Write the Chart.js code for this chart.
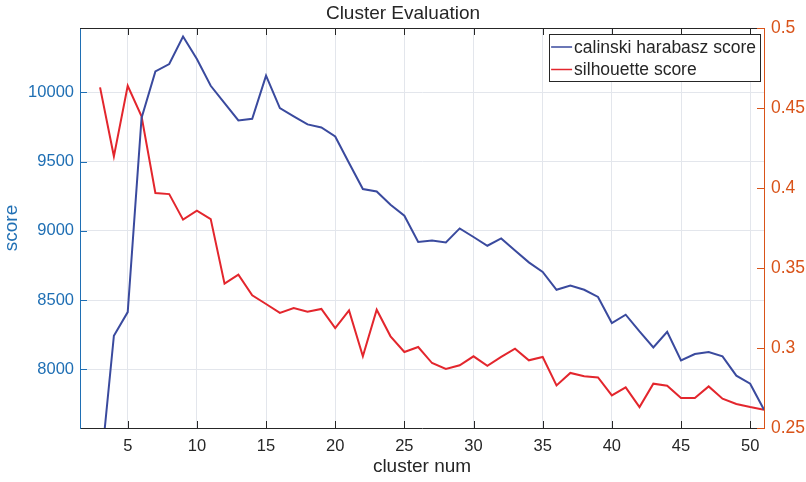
<!DOCTYPE html>
<html>
<head>
<meta charset="utf-8">
<title>Cluster Evaluation</title>
<script src="https://cdn.jsdelivr.net/npm/chart.js@4/dist/chart.umd.min.js"></script>
<style>
  html, body { margin: 0; padding: 0; background: #ffffff; }
  #wrap { width: 806px; height: 482px; position: relative; }
</style>
</head>
<body>
<div id="wrap"><canvas id="cluster-eval"></canvas></div>
<script>
// cluster counts on the x axis
const clusterNums = [3, 4, 5, 6, 7, 8, 9, 10, 11, 12, 13, 14, 15, 16, 17, 18, 19, 20, 21, 22, 23, 24, 25, 26, 27,
  28, 29, 30, 31, 32, 33, 34, 35, 36, 37, 38, 39, 40, 41, 42, 43, 44, 45, 46, 47, 48, 49, 50, 51];

// left axis series
const calinskiScores = [7230, 8243, 8414, 9815, 10152, 10205, 10404, 10241, 10048, 9923, 9798, 9810, 10121, 9887,
  9827, 9769, 9747, 9682, 9490, 9302, 9285, 9189, 9110, 8920, 8931, 8917, 9018, 8956, 8893, 8946, 8859, 8773,
  8704, 8575, 8606, 8575, 8523, 8335, 8395, 8274, 8159, 8272, 8065, 8111, 8126, 8094, 7955, 7897, 7709];

// right axis series
const silhouetteScores = [0.4629, 0.4198, 0.4639, 0.4448, 0.3969, 0.3962, 0.3802, 0.3858, 0.3806, 0.3402, 0.3458,
  0.3329, 0.3275, 0.3219, 0.3250, 0.3227, 0.3244, 0.3125, 0.3235, 0.2948, 0.3239, 0.3073, 0.2975, 0.3006, 0.2906,
  0.2869, 0.2892, 0.2948, 0.2889, 0.2944, 0.2996, 0.2923, 0.2944, 0.2766, 0.2844, 0.2823, 0.2816, 0.2704, 0.2754,
  0.2631, 0.2777, 0.2764, 0.2688, 0.2688, 0.2760, 0.2683, 0.2650, 0.2631, 0.2614];

const xTicks = [5, 10, 15, 20, 25, 30, 35, 40, 45, 50];
const leftTicks = [8000, 8500, 9000, 9500, 10000];
const rightTicks = [0.25, 0.3, 0.35, 0.4, 0.45, 0.5];

const FONT = '"Liberation Sans", Arial, Helvetica, sans-serif';
const BLUE_AXIS = '#1f6fb4';
const ORANGE_AXIS = '#d95319';
const DARK = '#262626';
const GRID = '#e3e6ec';

function toPoints(values) {
  return values.map((v, i) => ({ x: clusterNums[i], y: v }));
}

function setTicks(list) {
  return scale => { scale.ticks = list.map(v => ({ value: v })); };
}

// inward tick marks + top box edge, like a matlab axes
const axesBox = {
  id: 'axesBox',
  afterDatasetsDraw(chart) {
    const { ctx, chartArea: a, scales } = chart;
    const len = 7;
    ctx.save();
    ctx.lineWidth = 1;

    ctx.strokeStyle = DARK;
    ctx.beginPath();
    ctx.moveTo(a.left, a.top + 0.5);
    ctx.lineTo(a.right, a.top + 0.5);
    xTicks.forEach(t => {
      const px = Math.round(scales.x.getPixelForValue(t)) + 0.5;
      ctx.moveTo(px, a.bottom);
      ctx.lineTo(px, a.bottom - len);
      ctx.moveTo(px, a.top);
      ctx.lineTo(px, a.top + len);
    });
    ctx.stroke();

    ctx.strokeStyle = BLUE_AXIS;
    ctx.beginPath();
    leftTicks.forEach(t => {
      const py = Math.round(scales.y.getPixelForValue(t)) + 0.5;
      ctx.moveTo(a.left, py);
      ctx.lineTo(a.left + len, py);
    });
    ctx.stroke();

    ctx.strokeStyle = ORANGE_AXIS;
    ctx.beginPath();
    rightTicks.forEach(t => {
      const py = Math.round(scales.y2.getPixelForValue(t)) + 0.5;
      ctx.moveTo(a.right, py);
      ctx.lineTo(a.right - len, py);
    });
    ctx.stroke();
    ctx.restore();
  }
};

// boxed legend in the top right corner of the plot
const boxLegend = {
  id: 'boxLegend',
  afterDraw(chart) {
    const { ctx, chartArea: a } = chart;
    const fontSize = 17.5;
    const rowH = 22.5;
    ctx.save();
    ctx.font = `${fontSize}px ${FONT}`;
    const textW = Math.max(...chart.data.datasets.map(d => ctx.measureText(d.label).width));
    const w = 2 + 21 + 2 + textW + 4;
    const h = rowH * chart.data.datasets.length + 2;
    const x0 = a.right - 4 - w;
    const y0 = a.top + 6;
    ctx.fillStyle = '#ffffff';
    ctx.fillRect(x0, y0, w, h);
    ctx.strokeStyle = DARK;
    ctx.lineWidth = 1;
    ctx.strokeRect(Math.round(x0) + 0.5, Math.round(y0) + 0.5, Math.round(w), Math.round(h));
    chart.data.datasets.forEach((d, i) => {
      const cy = y0 + 13 + i * rowH;
      ctx.strokeStyle = d.borderColor;
      ctx.lineWidth = 1.5;
      ctx.beginPath();
      ctx.moveTo(x0 + 2, cy);
      ctx.lineTo(x0 + 23, cy);
      ctx.stroke();
      ctx.fillStyle = DARK;
      ctx.textBaseline = 'middle';
      ctx.fillText(d.label, x0 + 25, cy + 1);
    });
    ctx.restore();
  }
};

new Chart(document.getElementById('cluster-eval'), {
  type: 'line',
  data: {
    datasets: [
      {
        label: 'calinski harabasz score',
        data: toPoints(calinskiScores),
        yAxisID: 'y',
        borderColor: '#3a4a9e',
        borderWidth: 2,
        pointRadius: 0,
        tension: 0
      },
      {
        label: 'silhouette score',
        data: toPoints(silhouetteScores),
        yAxisID: 'y2',
        borderColor: '#e3262d',
        borderWidth: 2,
        pointRadius: 0,
        tension: 0
      }
    ]
  },
  options: {
    responsive: true,
    maintainAspectRatio: false,
    animation: false,
    layout: { padding: 0 },
    plugins: {
      legend: { display: false },
      tooltip: { enabled: false },
      title: {
        display: true,
        text: 'Cluster Evaluation',
        color: DARK,
        font: { family: FONT, size: 19, weight: 'normal' },
        padding: { top: 2, bottom: 3.2 }
      }
    },
    scales: {
      x: {
        type: 'linear',
        min: 1.55,
        max: 51,
        afterBuildTicks: setTicks(xTicks),
        afterFit: scale => { scale.height = 54; },
        grid: { color: GRID, drawTicks: false },
        border: { color: DARK, width: 1 },
        ticks: {
          color: DARK,
          padding: 9,
          maxRotation: 0,
          font: { family: FONT, size: 16.5 }
        },
        title: {
          display: true,
          text: 'cluster num',
          color: DARK,
          font: { family: FONT, size: 19 },
          padding: { top: 0, bottom: 4 }
        }
      },
      y: {
        position: 'left',
        min: 7577,
        max: 10465,
        afterBuildTicks: setTicks(leftTicks),
        afterFit: scale => { scale.width = 80; },
        grid: { color: GRID, drawTicks: false },
        border: { color: BLUE_AXIS, width: 1 },
        ticks: {
          color: BLUE_AXIS,
          padding: 6,
          font: { family: FONT, size: 16.5 },
          callback: v => String(v)
        },
        title: {
          display: true,
          text: 'score',
          color: BLUE_AXIS,
          font: { family: FONT, size: 19 },
          padding: { top: 0, bottom: 0 }
        }
      },
      y2: {
        position: 'right',
        min: 0.25,
        max: 0.5,
        afterBuildTicks: setTicks(rightTicks),
        afterFit: scale => { scale.width = 42; },
        grid: { display: false, drawTicks: false },
        border: { color: ORANGE_AXIS, width: 1 },
        ticks: {
          color: ORANGE_AXIS,
          padding: 7,
          font: { family: FONT, size: 17.5 },
          callback: v => String(parseFloat(v.toFixed(2)))
        }
      }
    }
  },
  plugins: [axesBox, boxLegend]
});
</script>
</body>
</html>
